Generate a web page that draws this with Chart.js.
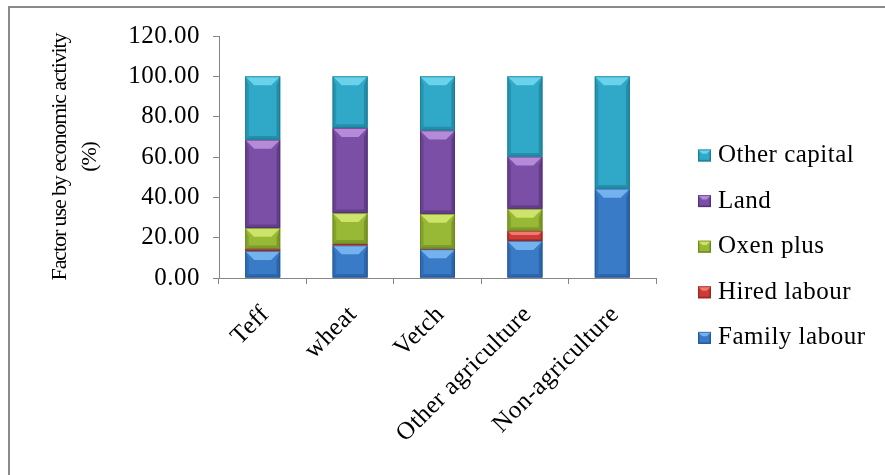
<!DOCTYPE html>
<html>
<head>
<meta charset="utf-8">
<script src="https://cdn.jsdelivr.net/npm/chart.js@4"></script>
<style>
  html, body { margin: 0; padding: 0; background: #fff; }
  #wrap { position: relative; width: 885px; height: 475px; overflow: hidden; }
  #frame { position: absolute; left: 8px; top: 6px; width: 900px; height: 500px;
           border-top: 2px solid #8a8a8a; border-left: 2px solid #8a8a8a; }
  canvas { position: absolute; left: 0; top: 0; }
</style>
</head>
<body>
<div id="wrap">
  <div id="frame"></div>
  <canvas id="chart" width="885" height="475"></canvas>
</div>
<script>
// Share of each production factor (%) by economic activity
const categories   = ['Teff', 'wheat', 'Vetch', 'Other agriculture', 'Non-agriculture'];
const familyLabour = [13.4, 16.2, 14.3, 18.4, 44.3];
const hiredLabour  = [1.0, 0.8, 0.3, 5.0, 0.0];
const oxenPlus     = [10.4, 15.2, 17.2, 10.9, 0.0];
const land         = [43.8, 42.2, 41.4, 25.9, 0.0];
const otherCapital = [31.4, 25.6, 26.8, 39.8, 55.7];
const yTickValues  = [0, 20, 40, 60, 80, 100, 120];
const yAxisTitle   = ['Factor use by economic activity', '(%)'];

const FONT = "'Liberation Serif', 'Times New Roman', serif";
const SPACING = '0.5px';

// base / highlight / shade for each factor
const palette = {
  family: ['#3a7bc8', '#74b2ee', '#1f4f8a'],
  hired:  ['#cc3b35', '#f07a70', '#8a1f1c'],
  oxen:   ['#98b935', '#cde36a', '#5f7a1a'],
  land:   ['#7b4fa5', '#b48ad9', '#4a2a6c'],
  other:  ['#30a9c8', '#6ad3ec', '#176f86']
};

const series = [
  { label: 'Family labour', data: familyLabour, key: 'family' },
  { label: 'Hired labour',  data: hiredLabour,  key: 'hired' },
  { label: 'Oxen plus',     data: oxenPlus,     key: 'oxen' },
  { label: 'Land',          data: land,         key: 'land' },
  { label: 'Other capital', data: otherCapital, key: 'other' }
];

function bevelRect(ctx, x0, y0, x1, y1, colors) {
  const w = x1 - x0, h = y1 - y0;
  if (h <= 0 || w <= 0) return;
  ctx.save();
  ctx.fillStyle = colors[0];
  ctx.fillRect(x0, y0, w, h);
  if (h >= 2) {
    const b = Math.min(9, h / 2.4, w / 3);
    const s = b * 0.4;
    // top facet
    ctx.fillStyle = colors[1];
    ctx.beginPath();
    ctx.moveTo(x0, y0); ctx.lineTo(x1, y0);
    ctx.lineTo(x1 - b, y0 + b); ctx.lineTo(x0 + b, y0 + b);
    ctx.closePath(); ctx.fill();
    // side facets
    ctx.globalAlpha = 0.35;
    ctx.fillStyle = colors[2];
    ctx.beginPath();
    ctx.moveTo(x0, y0); ctx.lineTo(x0 + s, y0 + b);
    ctx.lineTo(x0 + s, y1 - s); ctx.lineTo(x0, y1);
    ctx.closePath(); ctx.fill();
    ctx.globalAlpha = 0.5;
    ctx.beginPath();
    ctx.moveTo(x1, y0); ctx.lineTo(x1 - s, y0 + b);
    ctx.lineTo(x1 - s, y1 - s); ctx.lineTo(x1, y1);
    ctx.closePath(); ctx.fill();
    // bottom facet
    ctx.globalAlpha = 0.45;
    ctx.beginPath();
    ctx.moveTo(x0, y1); ctx.lineTo(x0 + s, y1 - s);
    ctx.lineTo(x1 - s, y1 - s); ctx.lineTo(x1, y1);
    ctx.closePath(); ctx.fill();
  }
  ctx.globalAlpha = 0.6;
  ctx.strokeStyle = colors[2];
  ctx.lineWidth = 1;
  ctx.strokeRect(x0 + 0.5, y0 + 0.5, w - 1, h - 1);
  ctx.restore();
}

const textSpacing = {
  id: 'textSpacing',
  beforeUpdate(chart) { chart.ctx.letterSpacing = SPACING; },
  beforeLayout(chart) { chart.ctx.letterSpacing = SPACING; },
  beforeDraw(chart) { chart.ctx.letterSpacing = SPACING; }
};

// shaded facets over every bar segment, using the bar geometry from the scales
const bevelBars = {
  id: 'bevelBars',
  afterDatasetsDraw(chart) {
    const ctx = chart.ctx;
    chart.data.datasets.forEach((ds, i) => {
      const meta = chart.getDatasetMeta(i);
      meta.data.forEach(el => {
        const p = el.getProps(['x', 'y', 'base', 'width'], true);
        const top = Math.min(p.y, p.base), bot = Math.max(p.y, p.base);
        if (bot - top < 0.3) return;
        bevelRect(ctx, p.x - p.width / 2, top, p.x + p.width / 2, bot, ds.bevelColors);
      });
    });
  }
};

// legend on the right, top item = top of the stack
const sideLegend = {
  id: 'sideLegend',
  afterDraw(chart) {
    const ctx = chart.ctx;
    const items = chart.data.datasets.slice().reverse();
    const boxX = 698, textX = 718, firstY = 154.5, step = 45.6;
    ctx.save();
    ctx.letterSpacing = SPACING;
    ctx.font = '25px ' + FONT;
    ctx.fillStyle = '#000';
    ctx.textAlign = 'left';
    ctx.textBaseline = 'middle';
    items.forEach((ds, k) => {
      const y = firstY + k * step;
      bevelRect(ctx, boxX, y - 5, boxX + 13, y + 7, ds.bevelColors);
      ctx.fillText(ds.label, textX, y + 1);
    });
    ctx.restore();
  }
};

// two-line vertical axis title
const axisTitle = {
  id: 'axisTitle',
  afterDraw(chart) {
    const ctx = chart.ctx;
    const area = chart.chartArea;
    const cy = (area.top + area.bottom) / 2;
    ctx.save();
    ctx.letterSpacing = '-1.1px';
    ctx.font = '22px ' + FONT;
    ctx.fillStyle = '#000';
    ctx.textAlign = 'center';
    ctx.textBaseline = 'middle';
    ctx.translate(0, cy);
    ctx.rotate(-Math.PI / 2);
    ctx.fillText(yAxisTitle[0], 0, 60);
    ctx.fillText(yAxisTitle[1], 0, 90);
    ctx.restore();
  }
};

new Chart(document.getElementById('chart'), {
  type: 'bar',
  data: {
    labels: categories,
    datasets: series.map(s => ({
      label: s.label,
      data: s.data,
      backgroundColor: palette[s.key][0],
      borderWidth: 0,
      bevelColors: palette[s.key],
      barPercentage: 0.4,
      categoryPercentage: 1.0
    }))
  },
  options: {
    responsive: false,
    animation: false,
    events: [],
    layout: { padding: { left: 10, right: 229, top: 36, bottom: 0 } },
    plugins: { legend: { display: false }, tooltip: { enabled: false } },
    scales: {
      x: {
        stacked: true,
        offset: true,
        afterFit(scale) { scale.height = 197; },
        grid: { display: true, offset: true, drawOnChartArea: false, drawTicks: true,
                tickLength: 6, color: '#868686' },
        border: { display: true, color: '#868686', width: 1 },
        ticks: { font: { family: FONT, size: 25 }, color: '#000',
                 minRotation: 45, maxRotation: 45, padding: 16, labelOffset: 3,
                 autoSkip: false }
      },
      y: {
        stacked: true,
        min: 0, max: 120,
        afterFit(scale) { scale.width = 209; },
        afterBuildTicks(scale) { scale.ticks = yTickValues.map(v => ({ value: v })); },
        grid: { display: true, drawOnChartArea: false, drawTicks: true,
                tickLength: 6, color: '#868686' },
        border: { display: true, color: '#868686', width: 1 },
        ticks: { font: { family: FONT, size: 25 }, color: '#000', padding: 13,
                 callback: v => Number(v).toFixed(2) }
      }
    }
  },
  plugins: [textSpacing, bevelBars, sideLegend, axisTitle]
});
</script>
</body>
</html>
